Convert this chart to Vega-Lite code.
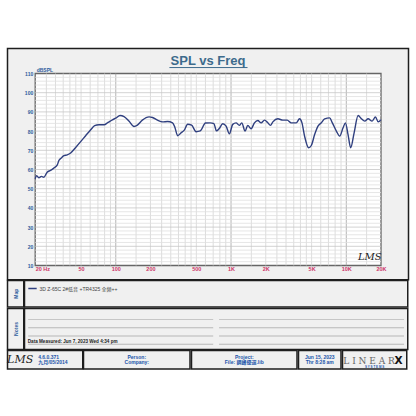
{
  "$schema": "https://vega.github.io/schema/vega-lite/v6.json",
  "background": "white",
  "padding": {"left": 5.5, "top": 47.5, "right": 8, "bottom": 40},
  "config": {
    "view": {"fill": "#f0f0f0", "stroke": "#1e1e1e", "strokeWidth": 1.5},
    "concat": {"spacing": -1.5},
    "font": "Liberation Sans",
    "text": {"font": "Liberation Sans, Noto Sans CJK SC"}
  },
  "datasets": {
    "curve": [
      {"f": 20, "spl": 55.2}, {"f": 20.5, "spl": 56.8}, {"f": 21.5, "spl": 55.7}, {"f": 22.6, "spl": 56.4}, {"f": 23.8, "spl": 56.0},
      {"f": 25.4, "spl": 58.6}, {"f": 27.2, "spl": 59.5}, {"f": 29, "spl": 60.7}, {"f": 31.1, "spl": 62.4}, {"f": 32.1, "spl": 64.7},
      {"f": 33.7, "spl": 66.0}, {"f": 35.5, "spl": 67.2}, {"f": 37.9, "spl": 67.6}, {"f": 40.6, "spl": 68.6}, {"f": 44.9, "spl": 71.5},
      {"f": 49.6, "spl": 74.5}, {"f": 54.8, "spl": 77.6}, {"f": 60.6, "spl": 80.7}, {"f": 65.6, "spl": 82.8}, {"f": 71.5, "spl": 83.3},
      {"f": 79, "spl": 83.3}, {"f": 85.7, "spl": 84.5}, {"f": 93.5, "spl": 85.9}, {"f": 100, "spl": 86.7}, {"f": 108.9, "spl": 88.1},
      {"f": 118, "spl": 87.6}, {"f": 130, "spl": 85.3}, {"f": 144, "spl": 82.4}, {"f": 154, "spl": 83.1}, {"f": 170, "spl": 85.7},
      {"f": 194.6, "spl": 87.4}, {"f": 208, "spl": 87.1}, {"f": 230, "spl": 85.7}, {"f": 255, "spl": 84.8}, {"f": 281, "spl": 85.0},
      {"f": 311, "spl": 84.3}, {"f": 326, "spl": 81.9}, {"f": 344, "spl": 77.6}, {"f": 367, "spl": 79.0}, {"f": 393, "spl": 80.5},
      {"f": 420, "spl": 83.6}, {"f": 455, "spl": 83.1}, {"f": 497, "spl": 79.7}, {"f": 541, "spl": 80.1}, {"f": 600, "spl": 84.2},
      {"f": 660, "spl": 84.3}, {"f": 710, "spl": 83.9}, {"f": 748, "spl": 80.1}, {"f": 791, "spl": 81.4}, {"f": 847, "spl": 83.8},
      {"f": 906, "spl": 82.6}, {"f": 967, "spl": 78.6}, {"f": 1035, "spl": 83.5}, {"f": 1106, "spl": 84.3}, {"f": 1181, "spl": 83.0},
      {"f": 1239, "spl": 84.3}, {"f": 1324, "spl": 80.0}, {"f": 1397, "spl": 83.0}, {"f": 1493, "spl": 81.2}, {"f": 1596, "spl": 84.3},
      {"f": 1707, "spl": 85.5}, {"f": 1825, "spl": 84.3}, {"f": 1951, "spl": 85.7}, {"f": 2085, "spl": 84.3}, {"f": 2198, "spl": 83.0},
      {"f": 2306, "spl": 84.8}, {"f": 2549, "spl": 86.4}, {"f": 2818, "spl": 85.7}, {"f": 3071, "spl": 85.7}, {"f": 3327, "spl": 84.3},
      {"f": 3678, "spl": 84.3}, {"f": 3930, "spl": 86.4}, {"f": 4125, "spl": 84.3}, {"f": 4345, "spl": 77.4}, {"f": 4709, "spl": 71.3},
      {"f": 4970, "spl": 72.5}, {"f": 5313, "spl": 78.2}, {"f": 5680, "spl": 82.6}, {"f": 6073, "spl": 84.3}, {"f": 6493, "spl": 86.4},
      {"f": 7168, "spl": 86.9}, {"f": 7571, "spl": 84.3}, {"f": 8200, "spl": 80.0}, {"f": 8758, "spl": 77.4}, {"f": 9376, "spl": 81.7},
      {"f": 9821, "spl": 84.3}, {"f": 10355, "spl": 78.2}, {"f": 10915, "spl": 71.3}, {"f": 11690, "spl": 79.1}, {"f": 12660, "spl": 88.1},
      {"f": 13530, "spl": 86.4}, {"f": 14460, "spl": 85.2}, {"f": 15460, "spl": 86.4}, {"f": 16750, "spl": 85.2}, {"f": 17910, "spl": 87.4},
      {"f": 18890, "spl": 84.8}, {"f": 20000, "spl": 86.0}
    ],
    "gridF": [
      {"f": 25}, {"f": 30}, {"f": 35}, {"f": 40}, {"f": 45}, {"f": 50}, {"f": 60}, {"f": 70}, {"f": 80}, {"f": 90},
      {"f": 100}, {"f": 150}, {"f": 200}, {"f": 250}, {"f": 300}, {"f": 350}, {"f": 400}, {"f": 450}, {"f": 500}, {"f": 600}, {"f": 700}, {"f": 800}, {"f": 900},
      {"f": 1000}, {"f": 1500}, {"f": 2000}, {"f": 2500}, {"f": 3000}, {"f": 3500}, {"f": 4000}, {"f": 4500}, {"f": 5000}, {"f": 6000}, {"f": 7000}, {"f": 8000}, {"f": 9000},
      {"f": 10000}, {"f": 15000}
    ],
    "gridDb": [
      {"db": 12}, {"db": 14}, {"db": 16}, {"db": 18}, {"db": 20}, {"db": 22}, {"db": 24}, {"db": 26}, {"db": 28},
      {"db": 30}, {"db": 32}, {"db": 34}, {"db": 36}, {"db": 38}, {"db": 40}, {"db": 42}, {"db": 44}, {"db": 46}, {"db": 48},
      {"db": 50}, {"db": 52}, {"db": 54}, {"db": 56}, {"db": 58}, {"db": 60}, {"db": 62}, {"db": 64}, {"db": 66}, {"db": 68},
      {"db": 70}, {"db": 72}, {"db": 74}, {"db": 76}, {"db": 78}, {"db": 80}, {"db": 82}, {"db": 84}, {"db": 86}, {"db": 88},
      {"db": 90}, {"db": 92}, {"db": 94}, {"db": 96}, {"db": 98}, {"db": 100}, {"db": 102}, {"db": 104}, {"db": 106}, {"db": 108}
    ],
    "notes": [
      {"col": "L", "line": 1}, {"col": "L", "line": 2}, {"col": "L", "line": 3}, {"col": "L", "line": 4},
      {"col": "R", "line": 1}, {"col": "R", "line": 2}, {"col": "R", "line": 3}, {"col": "R", "line": 4}
    ]
  },
  "spacing": -1.5,
  "resolve": {"legend": {"color": "independent"}, "scale": {"color": "independent"}},
  "vconcat": [
    {
      "width": 401,
      "height": 231.25,
      "title": {"text": "SPL vs Freq", "fontSize": 13, "font": "Liberation Sans", "fontWeight": "bold", "color": "#3d6b8c", "anchor": "middle", "offset": -19.5, "baseline": "top"},
      "layer": [
        {
          "data": {"values": [{}]},
          "mark": {"type": "rect", "fill": "white", "stroke": "#666666", "strokeWidth": 1.3},
          "encoding": {
            "x": {"datum": 20, "type": "quantitative", "scale": {"type": "log", "domain": [20, 20000], "range": [27.7, 373.5]},
              "axis": {"values": [20, 50, 100, 200, 500, 1000, 2000, 5000, 10000, 20000],
                "labelExpr": "datum.value == 20 ? '20 Hz' : datum.value >= 1000 ? (datum.value / 1000) + 'K' : '' + datum.value",
                "grid": false, "domain": false, "ticks": false, "offset": -15, "labelPadding": 1.5, "labelFontSize": 5.5, "labelFontWeight": "bold",
                "labelColor": "#cc3366", "labelAlign": {"condition": {"test": "datum.value == 20", "value": "left"}, "value": "center"},
                "labelFlush": false, "labelOverlap": false, "labelBound": false, "labelBaseline": "top", "title": null, "zindex": 1}},
            "x2": {"datum": 20000},
            "y": {"datum": 10, "type": "quantitative", "scale": {"domain": [10, 110], "range": [217, 25], "zero": false, "nice": false},
              "axis": {"values": [10, 20, 30, 40, 50, 60, 70, 80, 90, 100, 110], "grid": false, "domain": false, "ticks": false, "offset": -27.7,
                "labelPadding": 2.5, "labelFontSize": 5, "labelFontWeight": "bold", "labelColor": "#2d5c9c",
                "labelFlush": false, "labelOverlap": false, "labelBound": false,
                "title": "dBSPL", "titleAngle": 0, "titleAlign": "left", "titleBaseline": "middle", "titleX": 1, "titleY": 21,
                "titleFontSize": 5, "titleFontWeight": "bold", "titleColor": "#2d5c9c", "zindex": 1}},
            "y2": {"datum": 110}
          }
        },
        {
          "data": {"name": "gridF"},
          "mark": {"type": "rule", "strokeWidth": 0.8},
          "encoding": {
            "x": {"field": "f", "type": "quantitative", "scale": {"type": "log", "domain": [20, 20000], "range": [27.7, 373.5]},
              "axis": {"values": [20, 50, 100, 200, 500, 1000, 2000, 5000, 10000, 20000],
                "labelExpr": "datum.value == 20 ? '20 Hz' : datum.value >= 1000 ? (datum.value / 1000) + 'K' : '' + datum.value",
                "grid": false, "domain": false, "ticks": false, "offset": -15, "labelPadding": 1.5, "labelFontSize": 5.5, "labelFontWeight": "bold",
                "labelColor": "#cc3366", "labelAlign": {"condition": {"test": "datum.value == 20", "value": "left"}, "value": "center"},
                "labelFlush": false, "labelOverlap": false, "labelBound": false, "labelBaseline": "top", "title": null, "zindex": 1}},
            "y": {"datum": 10, "type": "quantitative", "scale": {"domain": [10, 110], "range": [217, 25], "zero": false, "nice": false},
              "axis": {"values": [10, 20, 30, 40, 50, 60, 70, 80, 90, 100, 110], "grid": false, "domain": false, "ticks": false, "offset": -27.7,
                "labelPadding": 2.5, "labelFontSize": 5, "labelFontWeight": "bold", "labelColor": "#2d5c9c",
                "labelFlush": false, "labelOverlap": false, "labelBound": false,
                "title": "dBSPL", "titleAngle": 0, "titleAlign": "left", "titleBaseline": "middle", "titleX": 1, "titleY": 21,
                "titleFontSize": 5, "titleFontWeight": "bold", "titleColor": "#2d5c9c", "zindex": 1}},
            "y2": {"datum": 110},
            "color": {"condition": {"test": "datum.f == 100 || datum.f == 1000 || datum.f == 10000", "value": "#a2a2a2"}, "value": "#d4d4d4"}
          }
        },
        {
          "data": {"name": "gridDb"},
          "mark": {"type": "rule", "strokeWidth": 0.8},
          "encoding": {
            "y": {"field": "db", "type": "quantitative", "scale": {"domain": [10, 110], "range": [217, 25], "zero": false, "nice": false},
              "axis": {"values": [10, 20, 30, 40, 50, 60, 70, 80, 90, 100, 110], "grid": false, "domain": false, "ticks": false, "offset": -27.7,
                "labelPadding": 2.5, "labelFontSize": 5, "labelFontWeight": "bold", "labelColor": "#2d5c9c",
                "labelFlush": false, "labelOverlap": false, "labelBound": false,
                "title": "dBSPL", "titleAngle": 0, "titleAlign": "left", "titleBaseline": "middle", "titleX": 1, "titleY": 21,
                "titleFontSize": 5, "titleFontWeight": "bold", "titleColor": "#2d5c9c", "zindex": 1}},
            "x": {"datum": 20, "type": "quantitative", "scale": {"type": "log", "domain": [20, 20000], "range": [27.7, 373.5]},
              "axis": {"values": [20, 50, 100, 200, 500, 1000, 2000, 5000, 10000, 20000],
                "labelExpr": "datum.value == 20 ? '20 Hz' : datum.value >= 1000 ? (datum.value / 1000) + 'K' : '' + datum.value",
                "grid": false, "domain": false, "ticks": false, "offset": -15, "labelPadding": 1.5, "labelFontSize": 5.5, "labelFontWeight": "bold",
                "labelColor": "#cc3366", "labelAlign": {"condition": {"test": "datum.value == 20", "value": "left"}, "value": "center"},
                "labelFlush": false, "labelOverlap": false, "labelBound": false, "labelBaseline": "top", "title": null, "zindex": 1}},
            "x2": {"datum": 20000},
            "color": {"condition": {"test": "datum.db % 10 == 0", "value": "#c6c6c6"}, "value": "#e0e0e0"}
          }
        },
        {
          "data": {"name": "curve"},
          "mark": {"type": "line", "color": "#2f3f7f", "strokeWidth": 1.4, "interpolate": "monotone"},
          "encoding": {
            "x": {"field": "f", "type": "quantitative", "scale": {"type": "log", "domain": [20, 20000], "range": [27.7, 373.5]},
              "axis": {"values": [20, 50, 100, 200, 500, 1000, 2000, 5000, 10000, 20000],
                "labelExpr": "datum.value == 20 ? '20 Hz' : datum.value >= 1000 ? (datum.value / 1000) + 'K' : '' + datum.value",
                "grid": false, "domain": false, "ticks": false, "offset": -15, "labelPadding": 1.5, "labelFontSize": 5.5, "labelFontWeight": "bold",
                "labelColor": "#cc3366", "labelAlign": {"condition": {"test": "datum.value == 20", "value": "left"}, "value": "center"},
                "labelFlush": false, "labelOverlap": false, "labelBound": false, "labelBaseline": "top", "title": null, "zindex": 1}},
            "y": {"field": "spl", "type": "quantitative", "scale": {"domain": [10, 110], "range": [217, 25], "zero": false, "nice": false},
              "axis": {"values": [10, 20, 30, 40, 50, 60, 70, 80, 90, 100, 110], "grid": false, "domain": false, "ticks": false, "offset": -27.7,
                "labelPadding": 2.5, "labelFontSize": 5, "labelFontWeight": "bold", "labelColor": "#2d5c9c",
                "labelFlush": false, "labelOverlap": false, "labelBound": false,
                "title": "dBSPL", "titleAngle": 0, "titleAlign": "left", "titleBaseline": "middle", "titleX": 1, "titleY": 21,
                "titleFontSize": 5, "titleFontWeight": "bold", "titleColor": "#2d5c9c", "zindex": 1}}
          }
        },
        {
          "data": {"values": [{}]},
          "mark": {"type": "rule", "color": "#3d6b8c", "strokeWidth": 1},
          "encoding": {
            "x": {"datum": 292, "type": "quantitative", "scale": {"type": "log", "domain": [20, 20000], "range": [27.7, 373.5]},
              "axis": {"values": [20, 50, 100, 200, 500, 1000, 2000, 5000, 10000, 20000],
                "labelExpr": "datum.value == 20 ? '20 Hz' : datum.value >= 1000 ? (datum.value / 1000) + 'K' : '' + datum.value",
                "grid": false, "domain": false, "ticks": false, "offset": -15, "labelPadding": 1.5, "labelFontSize": 5.5, "labelFontWeight": "bold",
                "labelColor": "#cc3366", "labelAlign": {"condition": {"test": "datum.value == 20", "value": "left"}, "value": "center"},
                "labelFlush": false, "labelOverlap": false, "labelBound": false, "labelBaseline": "top", "title": null, "zindex": 1}},
            "x2": {"datum": 1390},
            "y": {"datum": 113.1, "type": "quantitative", "scale": {"domain": [10, 110], "range": [217, 25], "zero": false, "nice": false},
              "axis": {"values": [10, 20, 30, 40, 50, 60, 70, 80, 90, 100, 110], "grid": false, "domain": false, "ticks": false, "offset": -27.7,
                "labelPadding": 2.5, "labelFontSize": 5, "labelFontWeight": "bold", "labelColor": "#2d5c9c",
                "labelFlush": false, "labelOverlap": false, "labelBound": false,
                "title": "dBSPL", "titleAngle": 0, "titleAlign": "left", "titleBaseline": "middle", "titleX": 1, "titleY": 21,
                "titleFontSize": 5, "titleFontWeight": "bold", "titleColor": "#2d5c9c", "zindex": 1}}
          }
        },
        {
          "data": {"values": [{"t": "LMS"}]},
          "mark": {"type": "text", "font": "DejaVu Serif", "fontStyle": "italic", "fontSize": 10, "color": "#222222"},
          "encoding": {
            "x": {"datum": 16000, "type": "quantitative", "scale": {"type": "log", "domain": [20, 20000], "range": [27.7, 373.5]},
              "axis": {"values": [20, 50, 100, 200, 500, 1000, 2000, 5000, 10000, 20000],
                "labelExpr": "datum.value == 20 ? '20 Hz' : datum.value >= 1000 ? (datum.value / 1000) + 'K' : '' + datum.value",
                "grid": false, "domain": false, "ticks": false, "offset": -15, "labelPadding": 1.5, "labelFontSize": 5.5, "labelFontWeight": "bold",
                "labelColor": "#cc3366", "labelAlign": {"condition": {"test": "datum.value == 20", "value": "left"}, "value": "center"},
                "labelFlush": false, "labelOverlap": false, "labelBound": false, "labelBaseline": "top", "title": null, "zindex": 1}},
            "y": {"datum": 14.5, "type": "quantitative", "scale": {"domain": [10, 110], "range": [217, 25], "zero": false, "nice": false},
              "axis": {"values": [10, 20, 30, 40, 50, 60, 70, 80, 90, 100, 110], "grid": false, "domain": false, "ticks": false, "offset": -27.7,
                "labelPadding": 2.5, "labelFontSize": 5, "labelFontWeight": "bold", "labelColor": "#2d5c9c",
                "labelFlush": false, "labelOverlap": false, "labelBound": false,
                "title": "dBSPL", "titleAngle": 0, "titleAlign": "left", "titleBaseline": "middle", "titleX": 1, "titleY": 21,
                "titleFontSize": 5, "titleFontWeight": "bold", "titleColor": "#2d5c9c", "zindex": 1}},
            "text": {"field": "t"}
          }
        }
      ]
    },
    {
      "spacing": -1.5,
      "resolve": {"legend": {"color": "independent"}, "scale": {"color": "independent"}},
      "hconcat": [
        {
          "width": 16.25, "height": 26.5,
          "data": {"values": [{"t": "Map"}]},
          "mark": {"type": "text", "angle": 270, "fontSize": 5, "fontWeight": "bold", "color": "#2d5c9c"},
          "encoding": {
            "x": {"field": "t", "type": "nominal", "axis": null},
            "y": {"field": "t", "type": "nominal", "axis": null},
            "text": {"field": "t"}
          }
        },
        {
          "width": 383.25, "height": 26.5,
          "data": {"values": [{"s": "3D Z-65C 2#低音 +TR4325 全频++"}]},
          "mark": {"type": "line", "strokeWidth": 1.5},
          "encoding": {
            "x": {"field": "s", "type": "nominal", "axis": null},
            "y": {"field": "s", "type": "nominal", "axis": null},
            "color": {"field": "s", "type": "nominal", "scale": {"range": ["#2f3f7f"]},
              "legend": {"orient": "top-left", "offset": 3, "title": null, "symbolType": "stroke", "symbolStrokeWidth": 1.5, "symbolSize": 70,
                "labelFontSize": 5, "labelFont": "Liberation Sans, Noto Sans CJK SC", "labelColor": "#444444", "labelOffset": 2, "padding": 0}}
          }
        }
      ]
    },
    {
      "spacing": -1.5,
      "hconcat": [
        {
          "width": 16.25, "height": 41,
          "data": {"values": [{"t": "Notes"}]},
          "mark": {"type": "text", "angle": 270, "fontSize": 5, "fontWeight": "bold", "color": "#2d5c9c"},
          "encoding": {
            "x": {"field": "t", "type": "nominal", "axis": null},
            "y": {"field": "t", "type": "nominal", "axis": null},
            "text": {"field": "t"}
          }
        },
        {
          "width": 383.25, "height": 41,
          "layer": [
            {
              "data": {"name": "notes"},
              "mark": {"type": "tick", "size": 185, "thickness": 0.8, "color": "#a0a0a0"},
              "encoding": {
                "x": {"field": "col", "type": "nominal", "axis": null, "scale": {"domain": ["L", "R"], "paddingInner": 0.0263, "paddingOuter": 0.0171}},
                "y": {"field": "line", "type": "quantitative", "axis": null, "scale": {"domain": [-0.34, 4.64], "reverse": true, "zero": false, "nice": false}}
              }
            },
            {
              "data": {"values": [{"col": "L", "line": 4, "t": "Data Measured: Jun 7, 2023  Wed  4:34 pm"}]},
              "mark": {"type": "text", "align": "left", "baseline": "bottom", "fontSize": 4.6, "fontWeight": "bold", "color": "#222222"},
              "encoding": {
                "x": {"field": "col", "type": "nominal", "bandPosition": 0, "axis": null, "scale": {"domain": ["L", "R"], "paddingInner": 0.0263, "paddingOuter": 0.0171}},
                "y": {"field": "line", "type": "quantitative", "axis": null, "scale": {"domain": [-0.34, 4.64], "reverse": true, "zero": false, "nice": false}},
                "text": {"field": "t"}
              }
            }
          ]
        }
      ]
    },
    {
      "spacing": -1.5,
      "hconcat": [
        {
          "width": 75.25, "height": 18.5,
          "data": {"values": [{"k": "a", "logo": "LMS", "ver": "4.6.0.371\n九月/05/2014"}]},
          "encoding": {
            "x": {"field": "k", "type": "nominal", "axis": null},
            "y": {"field": "k", "type": "nominal", "axis": null}
          },
          "layer": [
            {"mark": {"type": "text", "font": "DejaVu Serif", "fontStyle": "italic", "fontSize": 11, "color": "#222222", "dx": -25},
             "encoding": {"text": {"field": "logo"}}},
            {"mark": {"type": "text", "align": "left", "dx": -7, "dy": -3, "fontSize": 5, "fontWeight": "bold", "color": "#2255aa", "lineBreak": "\n", "lineHeight": 5.5},
             "encoding": {"text": {"field": "ver"}}}
          ]
        },
        {
          "width": 106.5, "height": 18.5,
          "data": {"values": [{"t": "Person:\nCompany:"}]},
          "mark": {"type": "text", "dy": -3, "fontSize": 5, "fontWeight": "bold", "color": "#2255aa", "lineBreak": "\n", "lineHeight": 5.5},
          "encoding": {
            "x": {"field": "t", "type": "nominal", "axis": null},
            "y": {"field": "t", "type": "nominal", "axis": null},
            "text": {"field": "t"}
          }
        },
        {
          "width": 105.5, "height": 18.5,
          "data": {"values": [{"t": "Project:\nFile: 鋼峰優選.lib"}]},
          "mark": {"type": "text", "dy": -3, "fontSize": 5, "fontWeight": "bold", "color": "#2255aa", "lineBreak": "\n", "lineHeight": 5.5},
          "encoding": {
            "x": {"field": "t", "type": "nominal", "axis": null},
            "y": {"field": "t", "type": "nominal", "axis": null},
            "text": {"field": "t"}
          }
        },
        {
          "width": 42.5, "height": 18.5,
          "data": {"values": [{"t": "Jun 15, 2023\nThr  8:28 am"}]},
          "mark": {"type": "text", "dy": -3, "fontSize": 5, "fontWeight": "bold", "color": "#2255aa", "lineBreak": "\n", "lineHeight": 5.5},
          "encoding": {
            "x": {"field": "t", "type": "nominal", "axis": null},
            "y": {"field": "t", "type": "nominal", "axis": null},
            "text": {"field": "t"}
          }
        },
        {
          "width": 64.25, "height": 18.5,
          "data": {"values": [{"k": "a", "a": "L I N E A R", "b": "X", "c": "S  Y  S  T  E  M  S"}]},
          "encoding": {
            "x": {"field": "k", "type": "nominal", "axis": null},
            "y": {"field": "k", "type": "nominal", "axis": null}
          },
          "layer": [
            {"mark": {"type": "text", "font": "DejaVu Serif", "fontSize": 9, "color": "#666666", "dx": -5.5, "dy": 1},
             "encoding": {"text": {"field": "a"}}},
            {"mark": {"type": "text", "font": "DejaVu Sans", "fontWeight": "bold", "fontSize": 10.5, "color": "#111111", "dx": 24, "dy": 1},
             "encoding": {"text": {"field": "b"}}},
            {"mark": {"type": "text", "fontSize": 3, "fontWeight": "bold", "color": "#2255aa", "dx": 0, "dy": 7},
             "encoding": {"text": {"field": "c"}}}
          ]
        }
      ]
    }
  ]
}
